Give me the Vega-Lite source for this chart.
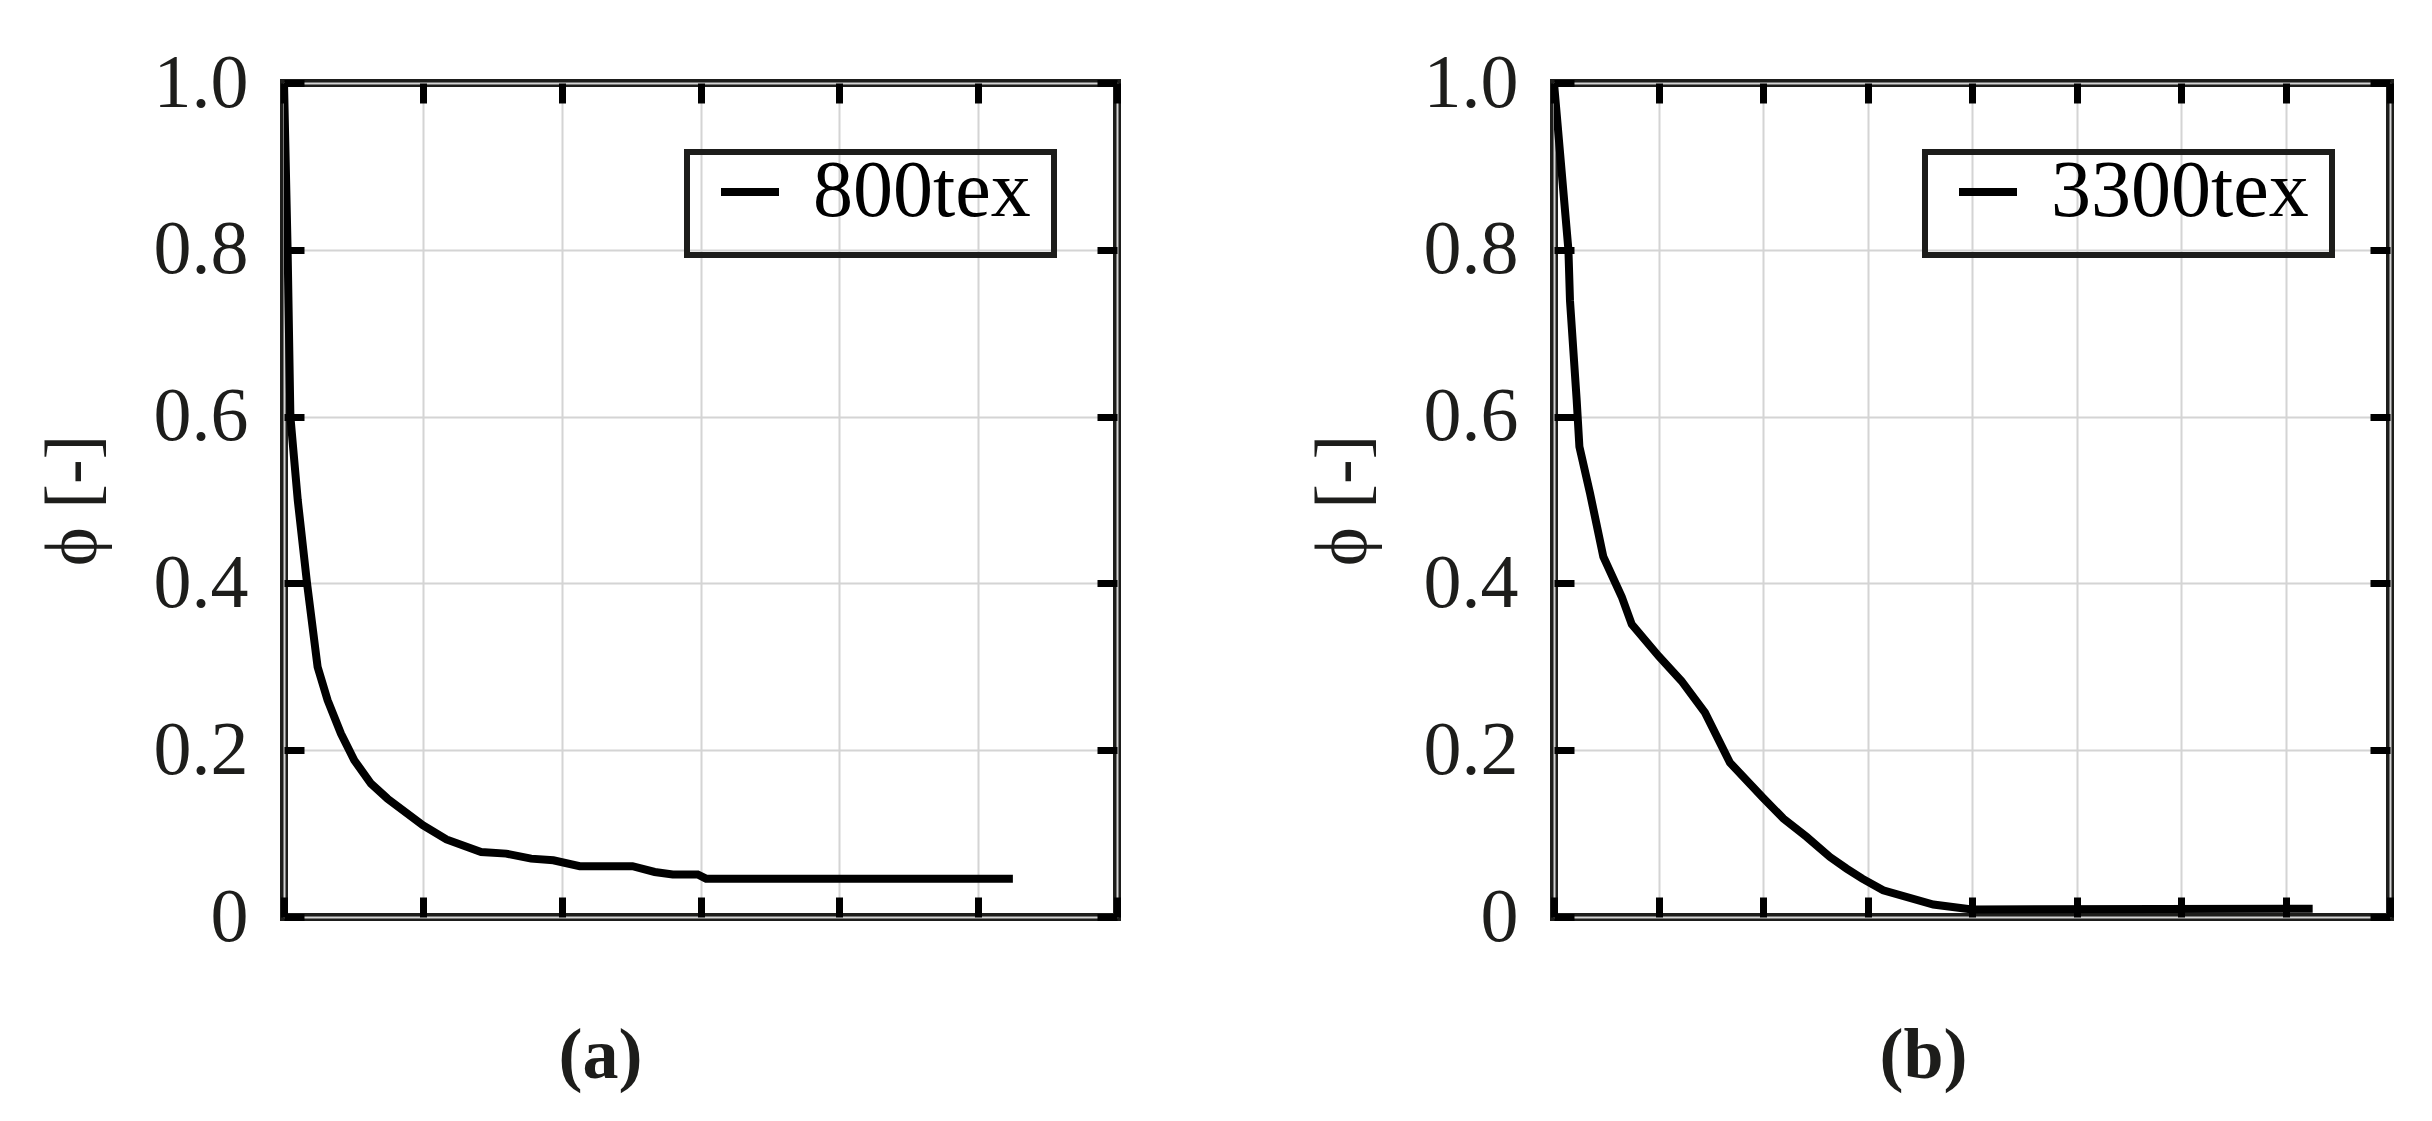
{
  "$schema": "https://vega.github.io/schema/vega-lite/v6.json",
  "description": "Two panels: phi versus time for 800tex and 3300tex.",
  "padding": {"left": 32, "top": 41, "right": 5, "bottom": 5},
  "spacing": 177,
  "resolve": {"scale": {"color": "independent"}, "legend": {"color": "independent"}},
  "config": {
    "font": "Liberation Serif",
    "view": {"stroke": "#1d1d1b", "strokeWidth": 8},
    "axis": {
      "domain": false,
      "tickColor": "#000000",
      "tickWidth": 7,
      "tickSize": -20,
      "gridColor": "#d4d4d4",
      "gridWidth": 2,
      "labelFont": "Liberation Serif",
      "labelFontSize": 76,
      "labelColor": "#1d1d1b",
      "titleFont": "Liberation Serif",
      "titleColor": "#1d1d1b",
      "titleFontWeight": "normal"
    },
    "legend": {
      "strokeColor": "#1d1d1b",
      "strokeWidth": 6,
      "padding": 23,
      "clipHeight": 34,
      "symbolType": "stroke",
      "symbolStrokeWidth": 8,
      "symbolSize": 3364,
      "symbolOffset": 0,
      "labelOffset": 23,
      "labelLimit": 0,
      "labelFont": "Liberation Serif",
      "labelFontSize": 80,
      "labelColor": "#000000"
    }
  },
  "hconcat": [
    {
      "width": 833,
      "height": 834,
      "data": {
        "values": [
          {"t": 0, "phi": 1.0, "series": "800tex"},
          {"t": 0.026, "phi": 0.8, "series": "800tex"},
          {"t": 0.046, "phi": 0.6, "series": "800tex"},
          {"t": 0.099, "phi": 0.5, "series": "800tex"},
          {"t": 0.166, "phi": 0.4, "series": "800tex"},
          {"t": 0.242, "phi": 0.3, "series": "800tex"},
          {"t": 0.314, "phi": 0.26, "series": "800tex"},
          {"t": 0.41, "phi": 0.22, "series": "800tex"},
          {"t": 0.506, "phi": 0.188, "series": "800tex"},
          {"t": 0.626, "phi": 0.16, "series": "800tex"},
          {"t": 0.745, "phi": 0.142, "series": "800tex"},
          {"t": 1.0, "phi": 0.11, "series": "800tex"},
          {"t": 1.17, "phi": 0.093, "series": "800tex"},
          {"t": 1.42, "phi": 0.078, "series": "800tex"},
          {"t": 1.6, "phi": 0.076, "series": "800tex"},
          {"t": 1.78, "phi": 0.07, "series": "800tex"},
          {"t": 1.94, "phi": 0.068, "series": "800tex"},
          {"t": 2.13, "phi": 0.061, "series": "800tex"},
          {"t": 2.51, "phi": 0.061, "series": "800tex"},
          {"t": 2.67, "phi": 0.054, "series": "800tex"},
          {"t": 2.8, "phi": 0.051, "series": "800tex"},
          {"t": 2.98, "phi": 0.051, "series": "800tex"},
          {"t": 3.04, "phi": 0.046, "series": "800tex"},
          {"t": 5.25, "phi": 0.046, "series": "800tex"}
        ]
      },
      "layer": [
        {
          "mark": {"type": "line", "strokeWidth": 8, "clip": true},
          "encoding": {
            "x": {
              "field": "t", "type": "quantitative",
              "scale": {"domain": [0, 6], "nice": false},
              "axis": {"orient": "bottom", "values": [0, 1, 2, 3, 4, 5, 6], "labels": false, "grid": true,
                       "title": "(a)", "titleFontWeight": "bold", "titleFontSize": 72,
                       "titleX": 316, "titleY": 138, "titleBaseline": "middle", "titleAlign": "center"}
            },
            "y": {
              "field": "phi", "type": "quantitative",
              "scale": {"domain": [0, 1], "nice": false},
              "axis": {"orient": "left", "values": [0, 0.2, 0.4, 0.6, 0.8, 1.0], "grid": true,
                       "labelExpr": "datum.value == 0 ? '0' : format(datum.value, '.1f')",
                       "labelPadding": 56, "title": "ϕ [-]", "titleFontSize": 74, "titlePadding": 42}
            },
            "color": {
              "field": "series", "type": "nominal",
              "scale": {"range": ["#000000"]},
              "legend": {"orient": "none", "legendX": 403, "legendY": 69, "title": null}
            }
          }
        },
        {
          "mark": {"type": "line", "strokeOpacity": 0},
          "encoding": {
            "x": {"field": "t", "type": "quantitative",
                  "axis": {"orient": "top", "values": [0, 1, 2, 3, 4, 5, 6], "labels": false, "grid": false, "title": null}},
            "y": {"field": "phi", "type": "quantitative",
                  "axis": {"orient": "right", "values": [0, 0.2, 0.4, 0.6, 0.8, 1.0], "labels": false, "grid": false, "title": null}}
          }
        }
      ],
      "resolve": {"axis": {"x": "independent", "y": "independent"}}
    },
    {
      "width": 836,
      "height": 834,
      "data": {
        "values": [
          {"t": 0, "phi": 1.0, "series": "3300tex"},
          {"t": 0.138, "phi": 0.8, "series": "3300tex"},
          {"t": 0.153, "phi": 0.739, "series": "3300tex"},
          {"t": 0.217, "phi": 0.62, "series": "3300tex"},
          {"t": 0.243, "phi": 0.564, "series": "3300tex"},
          {"t": 0.345, "phi": 0.508, "series": "3300tex"},
          {"t": 0.472, "phi": 0.432, "series": "3300tex"},
          {"t": 0.648, "phi": 0.384, "series": "3300tex"},
          {"t": 0.744, "phi": 0.351, "series": "3300tex"},
          {"t": 1.0, "phi": 0.313, "series": "3300tex"},
          {"t": 1.22, "phi": 0.283, "series": "3300tex"},
          {"t": 1.445, "phi": 0.245, "series": "3300tex"},
          {"t": 1.684, "phi": 0.185, "series": "3300tex"},
          {"t": 2.0, "phi": 0.143, "series": "3300tex"},
          {"t": 2.195, "phi": 0.118, "series": "3300tex"},
          {"t": 2.418, "phi": 0.096, "series": "3300tex"},
          {"t": 2.64, "phi": 0.072, "series": "3300tex"},
          {"t": 2.8, "phi": 0.058, "series": "3300tex"},
          {"t": 2.95, "phi": 0.046, "series": "3300tex"},
          {"t": 3.15, "phi": 0.032, "series": "3300tex"},
          {"t": 3.63, "phi": 0.015, "series": "3300tex"},
          {"t": 4.0, "phi": 0.009, "series": "3300tex"},
          {"t": 7.26, "phi": 0.01, "series": "3300tex"}
        ]
      },
      "layer": [
        {
          "mark": {"type": "line", "strokeWidth": 8, "clip": true},
          "encoding": {
            "x": {
              "field": "t", "type": "quantitative",
              "scale": {"domain": [0, 8], "nice": false},
              "axis": {"orient": "bottom", "values": [0, 1, 2, 3, 4, 5, 6, 7, 8], "labels": false, "grid": true,
                       "title": "(b)", "titleFontWeight": "bold", "titleFontSize": 72,
                       "titleX": 369, "titleY": 138, "titleBaseline": "middle", "titleAlign": "center"}
            },
            "y": {
              "field": "phi", "type": "quantitative",
              "scale": {"domain": [0, 1], "nice": false},
              "axis": {"orient": "left", "values": [0, 0.2, 0.4, 0.6, 0.8, 1.0], "grid": true,
                       "labelExpr": "datum.value == 0 ? '0' : format(datum.value, '.1f')",
                       "labelPadding": 56, "title": "ϕ [-]", "titleFontSize": 74, "titlePadding": 42}
            },
            "color": {
              "field": "series", "type": "nominal",
              "scale": {"range": ["#000000"]},
              "legend": {"orient": "none", "legendX": 371, "legendY": 69, "title": null}
            }
          }
        },
        {
          "mark": {"type": "line", "strokeOpacity": 0},
          "encoding": {
            "x": {"field": "t", "type": "quantitative",
                  "axis": {"orient": "top", "values": [0, 1, 2, 3, 4, 5, 6, 7, 8], "labels": false, "grid": false, "title": null}},
            "y": {"field": "phi", "type": "quantitative",
                  "axis": {"orient": "right", "values": [0, 0.2, 0.4, 0.6, 0.8, 1.0], "labels": false, "grid": false, "title": null}}
          }
        }
      ],
      "resolve": {"axis": {"x": "independent", "y": "independent"}}
    }
  ]
}
